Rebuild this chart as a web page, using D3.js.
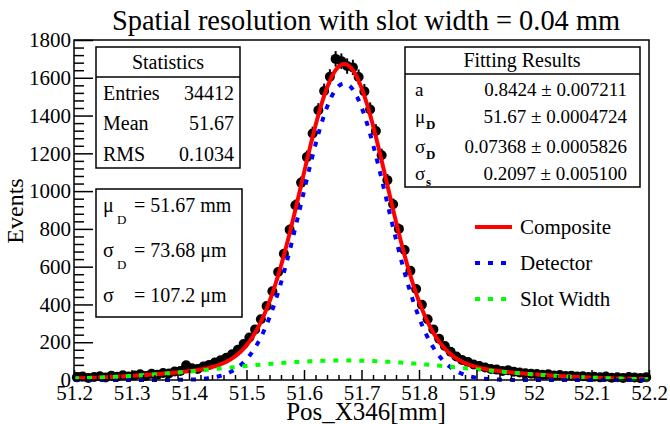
<!DOCTYPE html>
<html>
<head>
<meta charset="utf-8">
<script src="https://cdn.jsdelivr.net/npm/d3@7"></script>
<style>
  html, body { margin: 0; padding: 0; background: #fff; }
  svg { display: block; }
</style>
</head>
<body>
<svg id="chart" width="670" height="424"></svg>
<script>
// Histogram of reconstructed positions (100 bins of 0.01 mm from 51.2 to 52.2)
const xDomain = [51.2, 52.2];
const yDomain = [0, 1800];
const binWidth = 0.01;
const counts = [
  14, 18, 11, 16, 20, 13, 22, 17, 25, 19,
  24, 30, 21, 33, 28, 37, 34, 45, 48, 78,
  62, 58, 71, 80, 92, 105, 118, 136, 160, 190,
  225, 268, 322, 392, 470, 572, 668, 795, 925, 1045,
  1180, 1305, 1428, 1530, 1605, 1700, 1688, 1662, 1655, 1604,
  1528, 1432, 1318, 1190, 1058, 930, 800, 688, 578, 482,
  398, 322, 268, 218, 180, 150, 124, 106, 95, 82,
  74, 66, 58, 55, 48, 52, 44, 40, 36, 33,
  32, 28, 30, 24, 26, 21, 23, 18, 20, 16,
  17, 14, 18, 12, 15, 11, 16, 13, 10, 14
];

const xTickLabels = ["51.2", "51.3", "51.4", "51.5", "51.6", "51.7", "51.8", "51.9", "52", "52.1", "52.2"];
const yTickLabels = ["0", "200", "400", "600", "800", "1000", "1200", "1400", "1600", "1800"];

const titleText = "Spatial resolution with slot width = 0.04 mm";
const xTitle = "Pos_X346[mm]";
const yTitle = "Events";

const statNames = ["Entries", "Mean", "RMS"];
const statValues = ["34412", "51.67", "0.1034"];

// Fit: a * Gauss(muD, sigmaD) + (1 - a) * Gauss(muD, sigmaS)
const fitSymbols = ["a", "μ", "σ", "σ"];
const fitSubs = ["", "D", "D", "s"];
const fitValues = ["0.8424 ± 0.007211", "51.67 ± 0.0004724", "0.07368 ± 0.0005826", "0.2097 ± 0.005100"];
const fitA = 0.8424, fitMu = 51.67, fitSigmaD = 0.07368, fitSigmaS = 0.2097;
const entries = 34412;

const summarySymbols = ["μ", "σ", "σ"];
const summarySubs = ["D", "D", ""];
const summaryTexts = ["= 51.67 mm", "= 73.68 μm", "= 107.2 μm"];

const legendLabels = ["Composite", "Detector", "Slot Width"];
const legendColors = ["#ff0000", "#0000ff", "#00ff00"];

const FONT = "'Liberation Serif', 'Times New Roman', serif";

// ---- layout
const frame = { left: 74, right: 649, top: 40, bottom: 380 };
const svg = d3.select("#chart");

const x = d3.scaleLinear().domain(xDomain).range([frame.left, frame.right]);
const y = d3.scaleLinear().domain(yDomain).range([frame.bottom, frame.top]);

function label(g, px, py, size, str, anchor) {
  return g.append("text").attr("x", px).attr("y", py)
    .attr("text-anchor", anchor || "start")
    .style("font-family", FONT).style("font-size", size + "px")
    .attr("fill", "#000").text(str);
}

// ---- fit curves
const norm = entries * binWidth;
const gauss = (v, m, s) => Math.exp(-0.5 * ((v - m) / s) ** 2) / (Math.sqrt(2 * Math.PI) * s);
const detector = v => norm * fitA * gauss(v, fitMu, fitSigmaD);
const slot = v => norm * (1 - fitA) * gauss(v, fitMu, fitSigmaS);
const composite = v => detector(v) + slot(v);
const samples = d3.range(0, 801).map(i => xDomain[0] + (xDomain[1] - xDomain[0]) * i / 800);
const line = f => d3.line().x(d => x(d)).y(d => y(f(d)))(samples);

// ---- data points with error bars
const bins = counts.map((c, i) => ({ cx: xDomain[0] + binWidth * (i + 0.5), c }));
const pts = svg.append("g");
pts.selectAll("line.ey").data(bins).join("line")
  .attr("x1", d => x(d.cx)).attr("x2", d => x(d.cx))
  .attr("y1", d => y(Math.max(0, d.c - Math.sqrt(d.c))))
  .attr("y2", d => y(d.c + Math.sqrt(d.c)))
  .attr("stroke", "#000").attr("stroke-width", 2);
pts.selectAll("line.ex").data(bins).join("line")
  .attr("x1", d => x(d.cx - binWidth / 2)).attr("x2", d => x(d.cx + binWidth / 2))
  .attr("y1", d => y(d.c)).attr("y2", d => y(d.c))
  .attr("stroke", "#000").attr("stroke-width", 2);
pts.selectAll("circle").data(bins).join("circle")
  .attr("cx", d => x(d.cx)).attr("cy", d => y(d.c)).attr("r", 5)
  .attr("fill", "#000");

// ---- curves
svg.append("path").attr("d", line(composite)).attr("fill", "none")
  .attr("stroke", legendColors[0]).attr("stroke-width", 4);
svg.append("path").attr("d", line(detector)).attr("fill", "none")
  .attr("stroke", legendColors[1]).attr("stroke-width", 4).attr("stroke-dasharray", "5,8");
svg.append("path").attr("d", line(slot)).attr("fill", "none")
  .attr("stroke", legendColors[2]).attr("stroke-width", 4).attr("stroke-dasharray", "5,8");

// ---- frame and axes
svg.append("rect")
  .attr("x", frame.left).attr("y", frame.top)
  .attr("width", frame.right - frame.left).attr("height", frame.bottom - frame.top)
  .attr("fill", "none").attr("stroke", "#000").attr("stroke-width", 1.5);

const yMajor = yTickLabels.map(Number);
const yMinor = d3.range(0, 1800 + 1, 40).filter(v => v % 200 !== 0);
const xMajor = xTickLabels.map(Number);
const xMinor = d3.range(0, 51).map(i => +(51.2 + i * 0.02).toFixed(2)).filter((v, i) => i % 5 !== 0);

const styleAxis = (g, size) => {
  g.attr("font-family", null).attr("font-size", null);
  g.select(".domain").remove();
  g.selectAll(".tick line").attr("stroke", "#000").attr("stroke-width", 1.5);
  g.selectAll(".tick text").attr("fill", "#000")
    .style("font-family", FONT).style("font-size", size + "px");
};

svg.append("g").attr("transform", `translate(${frame.left},0)`)
  .call(d3.axisLeft(y).tickValues(yMinor).tickSize(-10).tickSizeOuter(0).tickFormat(""))
  .call(styleAxis, 21);
svg.append("g").attr("transform", `translate(${frame.left},0)`)
  .call(d3.axisLeft(y).tickValues(yMajor).tickSize(-19).tickSizeOuter(0).tickPadding(3)
    .tickFormat((d, i) => yTickLabels[i]))
  .call(styleAxis, 21);

svg.append("g").attr("transform", `translate(0,${frame.bottom})`)
  .call(d3.axisBottom(x).tickValues(xMinor).tickSize(-5).tickSizeOuter(0).tickFormat(""))
  .call(styleAxis, 21);
svg.append("g").attr("transform", `translate(0,${frame.bottom})`)
  .call(d3.axisBottom(x).tickValues(xMajor).tickSize(-10).tickSizeOuter(0).tickPadding(5)
    .tickFormat((d, i) => xTickLabels[i]))
  .call(styleAxis, 21);

// ---- titles
label(svg, 366, 30, 28.4, titleText, "middle");
label(svg, 366, 420, 25, xTitle, "middle");
label(svg, 0, 0, 24, yTitle, "middle").attr("transform", "translate(23,211) rotate(-90)");

// ---- statistics box
const stats = svg.append("g");
stats.append("rect").attr("x", 96).attr("y", 47).attr("width", 144).attr("height", 121)
  .attr("fill", "#fff").attr("stroke", "#000").attr("stroke-width", 1.5);
stats.append("line").attr("x1", 96).attr("x2", 240).attr("y1", 77).attr("y2", 77)
  .attr("stroke", "#000").attr("stroke-width", 1.5);
label(stats, 168, 69, 20, "Statistics", "middle");
const statY = [100, 130, 161];
statNames.forEach((n, i) => {
  label(stats, 103, statY[i], 20, n);
  label(stats, 234, statY[i], 20, statValues[i], "end");
});

// ---- summary box
const summ = svg.append("g");
summ.append("rect").attr("x", 96).attr("y", 189).attr("width", 146).attr("height", 128)
  .attr("fill", "#fff").attr("stroke", "#000").attr("stroke-width", 1.5);
const summY = [212, 257, 302];
summarySymbols.forEach((s, i) => {
  label(summ, 103, summY[i], 20, s);
  if (summarySubs[i]) label(summ, 117, summY[i] + 12, 13, summarySubs[i]);
  label(summ, 134, summY[i], 20, summaryTexts[i]);
});

// ---- fitting results box
const fit = svg.append("g");
fit.append("rect").attr("x", 405).attr("y", 47).attr("width", 235).attr("height", 140)
  .attr("fill", "#fff").attr("stroke", "#000").attr("stroke-width", 1.5);
fit.append("line").attr("x1", 405).attr("x2", 640).attr("y1", 74).attr("y2", 74)
  .attr("stroke", "#000").attr("stroke-width", 1.5);
label(fit, 522, 67, 20, "Fitting Results", "middle");
const fitY = [96, 123, 153, 180];
fitSymbols.forEach((s, i) => {
  label(fit, 415, fitY[i], 19, s);
  if (fitSubs[i]) label(fit, 426, fitY[i] + 6, 13, fitSubs[i]).style("font-weight", "bold");
  label(fit, 627, fitY[i], 19, fitValues[i], "end");
});

// ---- legend
const legY = [227, 263, 299];
legendLabels.forEach((lab, i) => {
  const l = svg.append("line").attr("x1", 475).attr("x2", 512).attr("y1", legY[i]).attr("y2", legY[i])
    .attr("stroke", legendColors[i]).attr("stroke-width", 4);
  if (i > 0) l.attr("x2", 510).attr("stroke-dasharray", "5,8");
  label(svg, 520, legY[i], 21, lab).attr("dy", "0.33em");
});
</script>
</body>
</html>
